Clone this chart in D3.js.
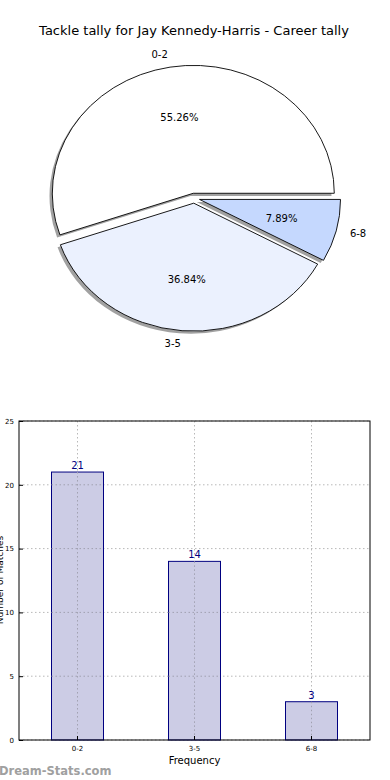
<!DOCTYPE html>
<html><head><meta charset="utf-8">
<script src="https://cdn.jsdelivr.net/npm/d3@7"></script>
<style>body{margin:0;background:#fff;} svg{display:block;font-family:"DejaVu Sans",sans-serif;}</style>
</head><body>
<script>
const title = "Tackle tally for Jay Kennedy-Harris - Career tally";
const categories = ["0-2", "3-5", "6-8"];
const counts = [21, 14, 3];
const sliceColors = ["#ffffff", "#ebf1fe", "#c5d8fe"];
const yTicks = [0, 5, 10, 15, 20, 25];
const xLabel = "Frequency";
const yLabel = "Number of Matches";
const watermark = "Dream-Stats.com";

(function () {
const W = 390, H = 780;
const svg = d3.select("body").append("svg").attr("width", W).attr("height", H);

svg.append("text").attr("x", 194).attr("y", 35).attr("text-anchor", "middle")
  .attr("font-size", 13).text(title);

// ---------- Pie (elliptical, as matplotlib without equal aspect) ----------
const cx = 194.2, cy = 198.2, rx = 141, ry = 128, explode = 0.039;
const total = d3.sum(counts);
const pie = d3.pie().sort(null).value(d => d)
  .startAngle(Math.PI / 2).endAngle(Math.PI / 2 - 2 * Math.PI);
const arcs = pie(counts);
const unitArc = d3.arc().innerRadius(0).outerRadius(1);

function dir(a) { return [Math.sin(a), -Math.cos(a)]; }

const pieG = svg.append("g");
arcs.forEach((a, i) => {
  const mid = (a.startAngle + a.endAngle) / 2;
  const [ux, uy] = dir(mid);
  const ox = cx + explode * ux * rx, oy = cy + explode * uy * ry;
  pieG.append("path").attr("d", unitArc(a))
    .attr("transform", `translate(${ox - 2.8},${oy + 2.6}) scale(${rx},${ry})`)
    .attr("fill", "#8a8a8a").attr("fill-opacity", 0.8);
});
arcs.forEach((a, i) => {
  const mid = (a.startAngle + a.endAngle) / 2;
  const [ux, uy] = dir(mid);
  const ox = cx + explode * ux * rx, oy = cy + explode * uy * ry;
  pieG.append("path").attr("d", unitArc(a))
    .attr("transform", `translate(${ox},${oy}) scale(${rx},${ry})`)
    .attr("fill", sliceColors[i]).attr("stroke", "#000")
    .attr("stroke-width", 0.9).attr("vector-effect", "non-scaling-stroke");
  const lx = ox + 1.1 * ux * rx, ly = oy + 1.1 * uy * ry;
  pieG.append("text").attr("x", lx).attr("y", ly).attr("dy", "0.35em")
    .attr("text-anchor", ux < 0 ? "end" : "start").attr("font-size", 10)
    .text(categories[i]);
  const px = ox + 0.6 * ux * rx, py = oy + 0.6 * uy * ry;
  pieG.append("text").attr("x", px).attr("y", py).attr("dy", "0.35em")
    .attr("text-anchor", "middle").attr("font-size", 10)
    .text((counts[i] / total * 100).toFixed(2) + "%");
});

// ---------- Bar chart ----------
const pl = 19, pr = 370, pt = 421, pb = 740;
const x = d3.scaleBand().domain(categories).range([pl, pr]);
const y = d3.scaleLinear().domain([0, 25]).range([pb, pt]);
const barW = 52;
const g = svg.append("g");
const xc = c => x(c) + x.bandwidth() / 2;

g.selectAll(".hg").data(yTicks).join("line")
  .attr("x1", pl).attr("x2", pr).attr("y1", d => y(d)).attr("y2", d => y(d))
  .attr("stroke", "#b8b8b8").attr("stroke-dasharray", "1.5,2.5").attr("stroke-width", 1);
g.selectAll(".vg").data(categories).join("line")
  .attr("x1", xc).attr("x2", xc).attr("y1", pt).attr("y2", pb)
  .attr("stroke", "#b8b8b8").attr("stroke-dasharray", "1.5,2.5").attr("stroke-width", 1);

g.selectAll(".bar").data(counts).join("rect")
  .attr("x", (d, i) => xc(categories[i]) - barW / 2)
  .attr("y", d => y(d)).attr("width", barW).attr("height", d => y(0) - y(d))
  .attr("fill", "#ccccE5").attr("stroke", "#000080").attr("stroke-width", 1);

g.selectAll(".vg2").data(categories).join("line")
  .attr("x1", xc).attr("x2", xc)
  .attr("y1", (d, i) => y(counts[i])).attr("y2", pb)
  .attr("stroke", "#a0a0b0").attr("stroke-dasharray", "1.5,2.5").attr("stroke-width", 1);
yTicks.filter(t => t > 0).forEach(t => {
  counts.forEach((c, i) => {
    if (c > t) {
      g.append("line")
        .attr("x1", xc(categories[i]) - barW / 2).attr("x2", xc(categories[i]) + barW / 2)
        .attr("y1", y(t)).attr("y2", y(t))
        .attr("stroke", "#a0a0b0").attr("stroke-dasharray", "1.5,2.5");
    }
  });
});

g.selectAll(".val").data(counts).join("text")
  .attr("x", (d, i) => xc(categories[i])).attr("y", d => y(d) - 3)
  .attr("text-anchor", "middle").attr("font-size", 10).attr("fill", "#000080").text(d => d);

g.append("rect").attr("x", pl).attr("y", pt).attr("width", pr - pl).attr("height", pb - pt)
  .attr("fill", "none").attr("stroke", "#000").attr("stroke-width", 1);

const yAxis = d3.axisLeft(y).tickValues(yTicks).tickSize(-4).tickPadding(5);
const ya = g.append("g").attr("transform", `translate(${pl},0)`).call(yAxis);
ya.select(".domain").remove();
ya.selectAll("text").attr("font-size", 7).attr("font-family", "DejaVu Sans");

const xAxis = d3.axisBottom(x).tickSize(-4).tickPadding(6);
const xa = g.append("g").attr("transform", `translate(0,${pb})`).call(xAxis);
xa.select(".domain").remove();
xa.selectAll("text").attr("font-size", 7).attr("font-family", "DejaVu Sans");

svg.append("text").attr("x", (pl + pr) / 2).attr("y", 764).attr("text-anchor", "middle")
  .attr("font-size", 10).text(xLabel);
svg.append("text").attr("transform", "translate(3,580) rotate(-90)").attr("text-anchor", "middle")
  .attr("font-size", 9).text(yLabel);

svg.append("text").attr("x", -1).attr("y", 775).attr("font-size", 11.5).attr("font-weight", "bold")
  .attr("fill", "#a0a0a0").text(watermark);
})();
</script>
</body></html>
